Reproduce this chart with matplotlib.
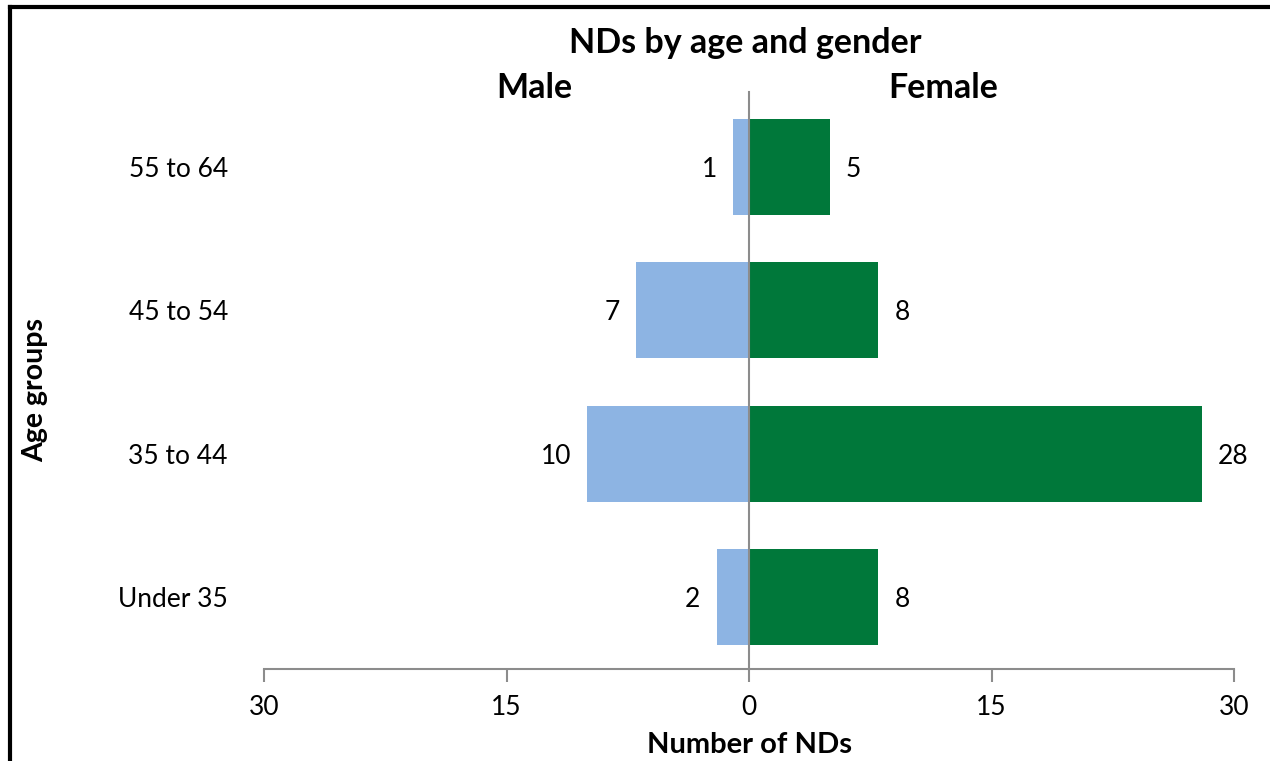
import matplotlib
matplotlib.use("Agg")
import matplotlib.pyplot as plt
from matplotlib.lines import Line2D

age_groups = ["Under 35", "35 to 44", "45 to 54", "55 to 64"]
male = [2, 10, 7, 1]
female = [8, 28, 8, 5]
x_ticks = [-30, -15, 0, 15, 30]
x_tick_labels = ["30", "15", "0", "15", "30"]

male_color = "#8DB4E3"
female_color = "#00783A"

plt.rcParams["font.family"] = ["Lato", "DejaVu Sans"]

fig = plt.figure(figsize=(12.7, 7.61), dpi=100)
ax = fig.add_axes([264 / 1270, 1 - 669 / 761, 970 / 1270, (669 - 95) / 761])

pos = list(range(len(age_groups)))
ax.barh(pos, [-m for m in male], height=0.67, color=male_color)
ax.barh(pos, female, height=0.67, color=female_color)

for y, m, f in zip(pos, male, female):
    ax.text(-m - 1.0, y, str(m), ha="right", va="center_baseline", fontsize=19)
    ax.text(f + 1.0, y, str(f), ha="left", va="center_baseline", fontsize=19)

ax.axvline(0, color="#8C8C8C", lw=1.5, ymax=1.005, clip_on=False)

ax.set_xlim(-30, 30)
ax.set_ylim(-0.5, 3.5)
ax.set_xticks(x_ticks)
ax.set_xticklabels(x_tick_labels, fontsize=19)
ax.set_yticks(pos)
ax.set_yticklabels(age_groups, fontsize=19)
ax.tick_params(axis="y", length=0, pad=26)
ax.tick_params(axis="x", length=9, width=1.5, color="#8C8C8C", pad=10)

for side in ["top", "right", "left"]:
    ax.spines[side].set_visible(False)
ax.spines["bottom"].set_color("#8C8C8C")
ax.spines["bottom"].set_linewidth(1.5)

fig.text(745 / 1270, 1 - 43 / 761, "NDs by age and gender", ha="center", va="center",
         fontsize=24.5, fontweight="bold")
fig.text(534 / 1270, 1 - 88 / 761, "Male", ha="center", va="center",
         fontsize=24.5, fontweight="bold")
fig.text(943 / 1270, 1 - 88 / 761, "Female", ha="center", va="center",
         fontsize=24.5, fontweight="bold")
fig.text(750 / 1270, 1 - 745 / 761, "Number of NDs", ha="center", va="center",
         fontsize=21, fontweight="bold")
fig.text(35 / 1270, 1 - 390 / 761, "Age groups", ha="center", va="center",
         rotation=90, fontsize=20.5, fontweight="bold")

# frame around the chart (cut off at right and bottom in the original)
fig.add_artist(Line2D([10 / 1270, 1.0], [1 - 7 / 761, 1 - 7 / 761], color="black", lw=3))
fig.add_artist(Line2D([10 / 1270, 10 / 1270], [0.0, 1 - 7 / 761], color="black", lw=3))

fig.savefig("out.png", dpi=100)
